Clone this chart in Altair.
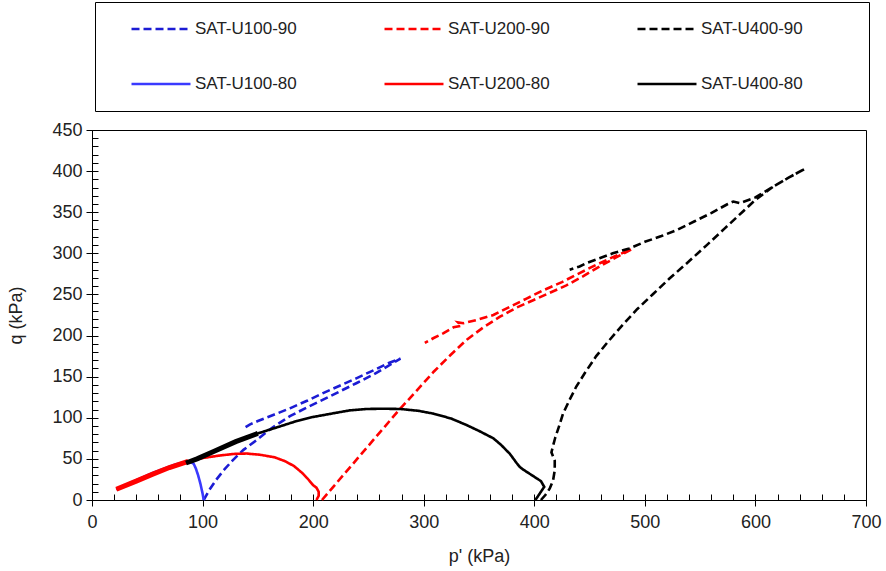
import altair as alt
import pandas as pd

# ---------------- data ----------------
series_names = ["SAT-U100-90", "SAT-U200-90", "SAT-U400-90",
                "SAT-U100-80", "SAT-U200-80", "SAT-U400-80"]
series_colors = ["#1c1cd4", "#ff0000", "#000000", "#3a3aff", "#ff0000", "#000000"]
series_dashes = [[8, 4], [8, 4], [8, 4], [1, 0], [1, 0], [1, 0]]

u100_90_p = [101, 106, 112, 119, 127, 137, 149, 162, 179, 195, 209, 224, 239, 255, 269, 279,
             269, 255, 239, 224, 209, 195, 179, 165, 150, 143, 138]
u100_90_q = [0, 12, 24, 36, 48, 61, 73, 87, 102, 113, 122, 132, 142, 153, 164, 172,
             167, 158, 148, 139, 130, 121, 111.5, 104, 96, 92, 88]

u200_90_p = [208, 222, 236, 250, 264, 278, 293, 309, 324, 339, 354, 369, 384, 399, 414, 429, 444, 459, 474, 488,
             472, 456, 441, 425, 408, 393, 378, 363, 348, 336, 331, 334, 327, 318, 309, 301]
u200_90_q = [0, 22, 44, 66, 88, 110, 132, 156, 176, 195, 210, 223, 234, 243, 252, 261, 272, 284, 295, 305,
             296, 286, 276, 265, 255, 245, 235, 225, 219, 215, 216, 212, 210, 203, 197, 191]

u400_90_p = [406, 410, 414, 417, 418.5, 418.5, 415.5, 417, 419, 422, 426, 432, 438, 446, 456, 467, 480, 493,
             507, 522, 538, 556, 572, 588, 600, 616, 630, 645,
             630, 616, 600, 590, 586, 580, 575, 560, 545, 530, 515, 500, 486, 471, 459, 447, 441, 432]
u400_90_q = [0, 6, 14, 24, 36, 48, 58, 66, 76, 88, 105, 122, 138, 155, 175, 193, 213, 232,
             250, 269, 288, 310, 330, 350, 365, 381, 392, 403,
             392, 381, 368, 363, 361, 363, 360, 349, 339, 329, 321, 314, 306, 300, 294, 288, 284, 280]

u100_80_p = [101, 100, 98, 96, 94, 92, 88, 84, 75, 65, 55, 45, 35, 25, 22]
u100_80_q = [0, 8, 20, 30, 38, 44, 47, 46, 43, 38, 33, 27, 21, 15, 13]

u200_80_p = [203, 205, 205, 203, 200, 195, 190, 183, 175, 165, 152, 140, 128, 115, 100, 87, 70, 55, 40, 22]
u200_80_q = [0, 5, 10, 15, 18, 26, 33, 41, 47, 52, 55, 56.5, 56, 54, 51, 47, 39.5, 31.5, 23, 13]

u400_80_p = [401, 405, 409, 406, 398, 390, 387, 384, 378, 370, 363, 350, 339, 325, 309, 295, 279, 263, 248,
             233, 218, 200, 185, 170, 150, 130, 110, 95, 85]
u400_80_q = [0, 8, 16, 23, 30, 37, 40, 45, 56, 67, 75, 84, 91, 99, 105, 108.5, 110.7, 111, 110.7,
             109, 105.4, 101, 96, 89.5, 81, 71, 59, 50, 45]

x_ticks_major = [0, 100, 200, 300, 400, 500, 600, 700]
x_ticks_minor = list(range(0, 701, 20))
y_ticks_major = [0, 50, 100, 150, 200, 250, 300, 350, 400, 450]
y_ticks_minor = list(range(0, 451, 10))

# ---------------- table ----------------
series_data = [
    ("SAT-U100-90", u100_90_p, u100_90_q),
    ("SAT-U200-90", u200_90_p, u200_90_q),
    ("SAT-U400-90", u400_90_p, u400_90_q),
    ("SAT-U100-80", u100_80_p, u100_80_q),
    ("SAT-U200-80", u200_80_p, u200_80_q),
    ("SAT-U400-80", u400_80_p, u400_80_q),
]
rows = []
for name, ps, qs in series_data:
    for i, (p, q) in enumerate(zip(ps, qs)):
        rows.append({"series": name, "p": p, "q": q, "idx": i})
df = pd.DataFrame(rows)

TEXT = "#222222"
FONT = "Liberation Sans"

xscale = alt.Scale(domain=[0, 700], nice=False, zero=True)
yscale = alt.Scale(domain=[0, 450], nice=False, zero=True)
color_scale = alt.Scale(domain=series_names, range=series_colors)
dash_scale = alt.Scale(domain=series_names, range=series_dashes)

# the legend title is painted white on the white box: it only widens the box on the right
legend = alt.Legend(
    title="W", titleOrient="right", titleColor="white", titleFontSize=17, titleFont=FONT,
    titlePadding=31,
    orient="none", legendX=3, legendY=-128, columns=3, direction="horizontal",
    symbolType="stroke", symbolSize=3480, symbolStrokeWidth=2.5,
    labelFontSize=17, labelFont=FONT, labelColor=TEXT, labelLimit=300,
    padding=18, strokeColor="black", fillColor="white",
    columnPadding=69, rowPadding=37, clipHeight=18, symbolOffset=17, labelOffset=3,
)

base = alt.Chart(df)

main = base.mark_line(strokeWidth=2.6).encode(
    x=alt.X("p:Q", scale=xscale,
            axis=alt.Axis(title="p' (kPa)", orient="bottom", values=x_ticks_major, tickSize=6,
                          grid=False, labelFlush=False, labelPadding=7, titlePadding=16)),
    y=alt.Y("q:Q", scale=yscale,
            axis=alt.Axis(title="q (kPa)", orient="left", values=y_ticks_major, tickSize=6,
                          grid=False, labelFlush=False, labelPadding=4, titlePadding=26)),
    color=alt.Color("series:N", scale=color_scale, legend=legend),
    strokeDash=alt.StrokeDash("series:N", scale=dash_scale, legend=legend),
    order=alt.Order("idx:Q"),
    detail="series:N",
)

thick = base.transform_filter(
    "(datum.series == 'SAT-U200-80' && datum.p <= 88) || (datum.series == 'SAT-U400-80' && datum.p <= 150)"
).mark_line(strokeWidth=5).encode(
    x=alt.X("p:Q", scale=xscale,
            axis=alt.Axis(title=None, orient="bottom", values=x_ticks_minor, tickSize=6, offset=-6,
                          labels=False, domain=False, grid=False)),
    y=alt.Y("q:Q", scale=yscale,
            axis=alt.Axis(title=None, orient="left", values=y_ticks_minor, tickSize=6, offset=-6,
                          labels=False, domain=False, grid=False)),
    color=alt.Color("series:N", scale=color_scale, legend=None),
    order=alt.Order("idx:Q"),
    detail="series:N",
)

chart = alt.layer(main, thick).resolve_axis(x="independent", y="independent").properties(
    width=774, height=370,
    padding={"left": 92, "top": 130, "right": 20, "bottom": 71},
    autosize=alt.AutoSizeParams(type="none"),
    background="white",
).configure_view(
    stroke="black", strokeWidth=1
).configure_axis(
    domainColor="black", tickColor="black", domainWidth=1, tickWidth=1,
    labelColor=TEXT, titleColor=TEXT, labelFont=FONT, titleFont=FONT,
    labelFontSize=18, titleFontSize=18, titleFontWeight="normal",
)

chart.save("out.html", embed_options={"renderer": "svg", "actions": False})
